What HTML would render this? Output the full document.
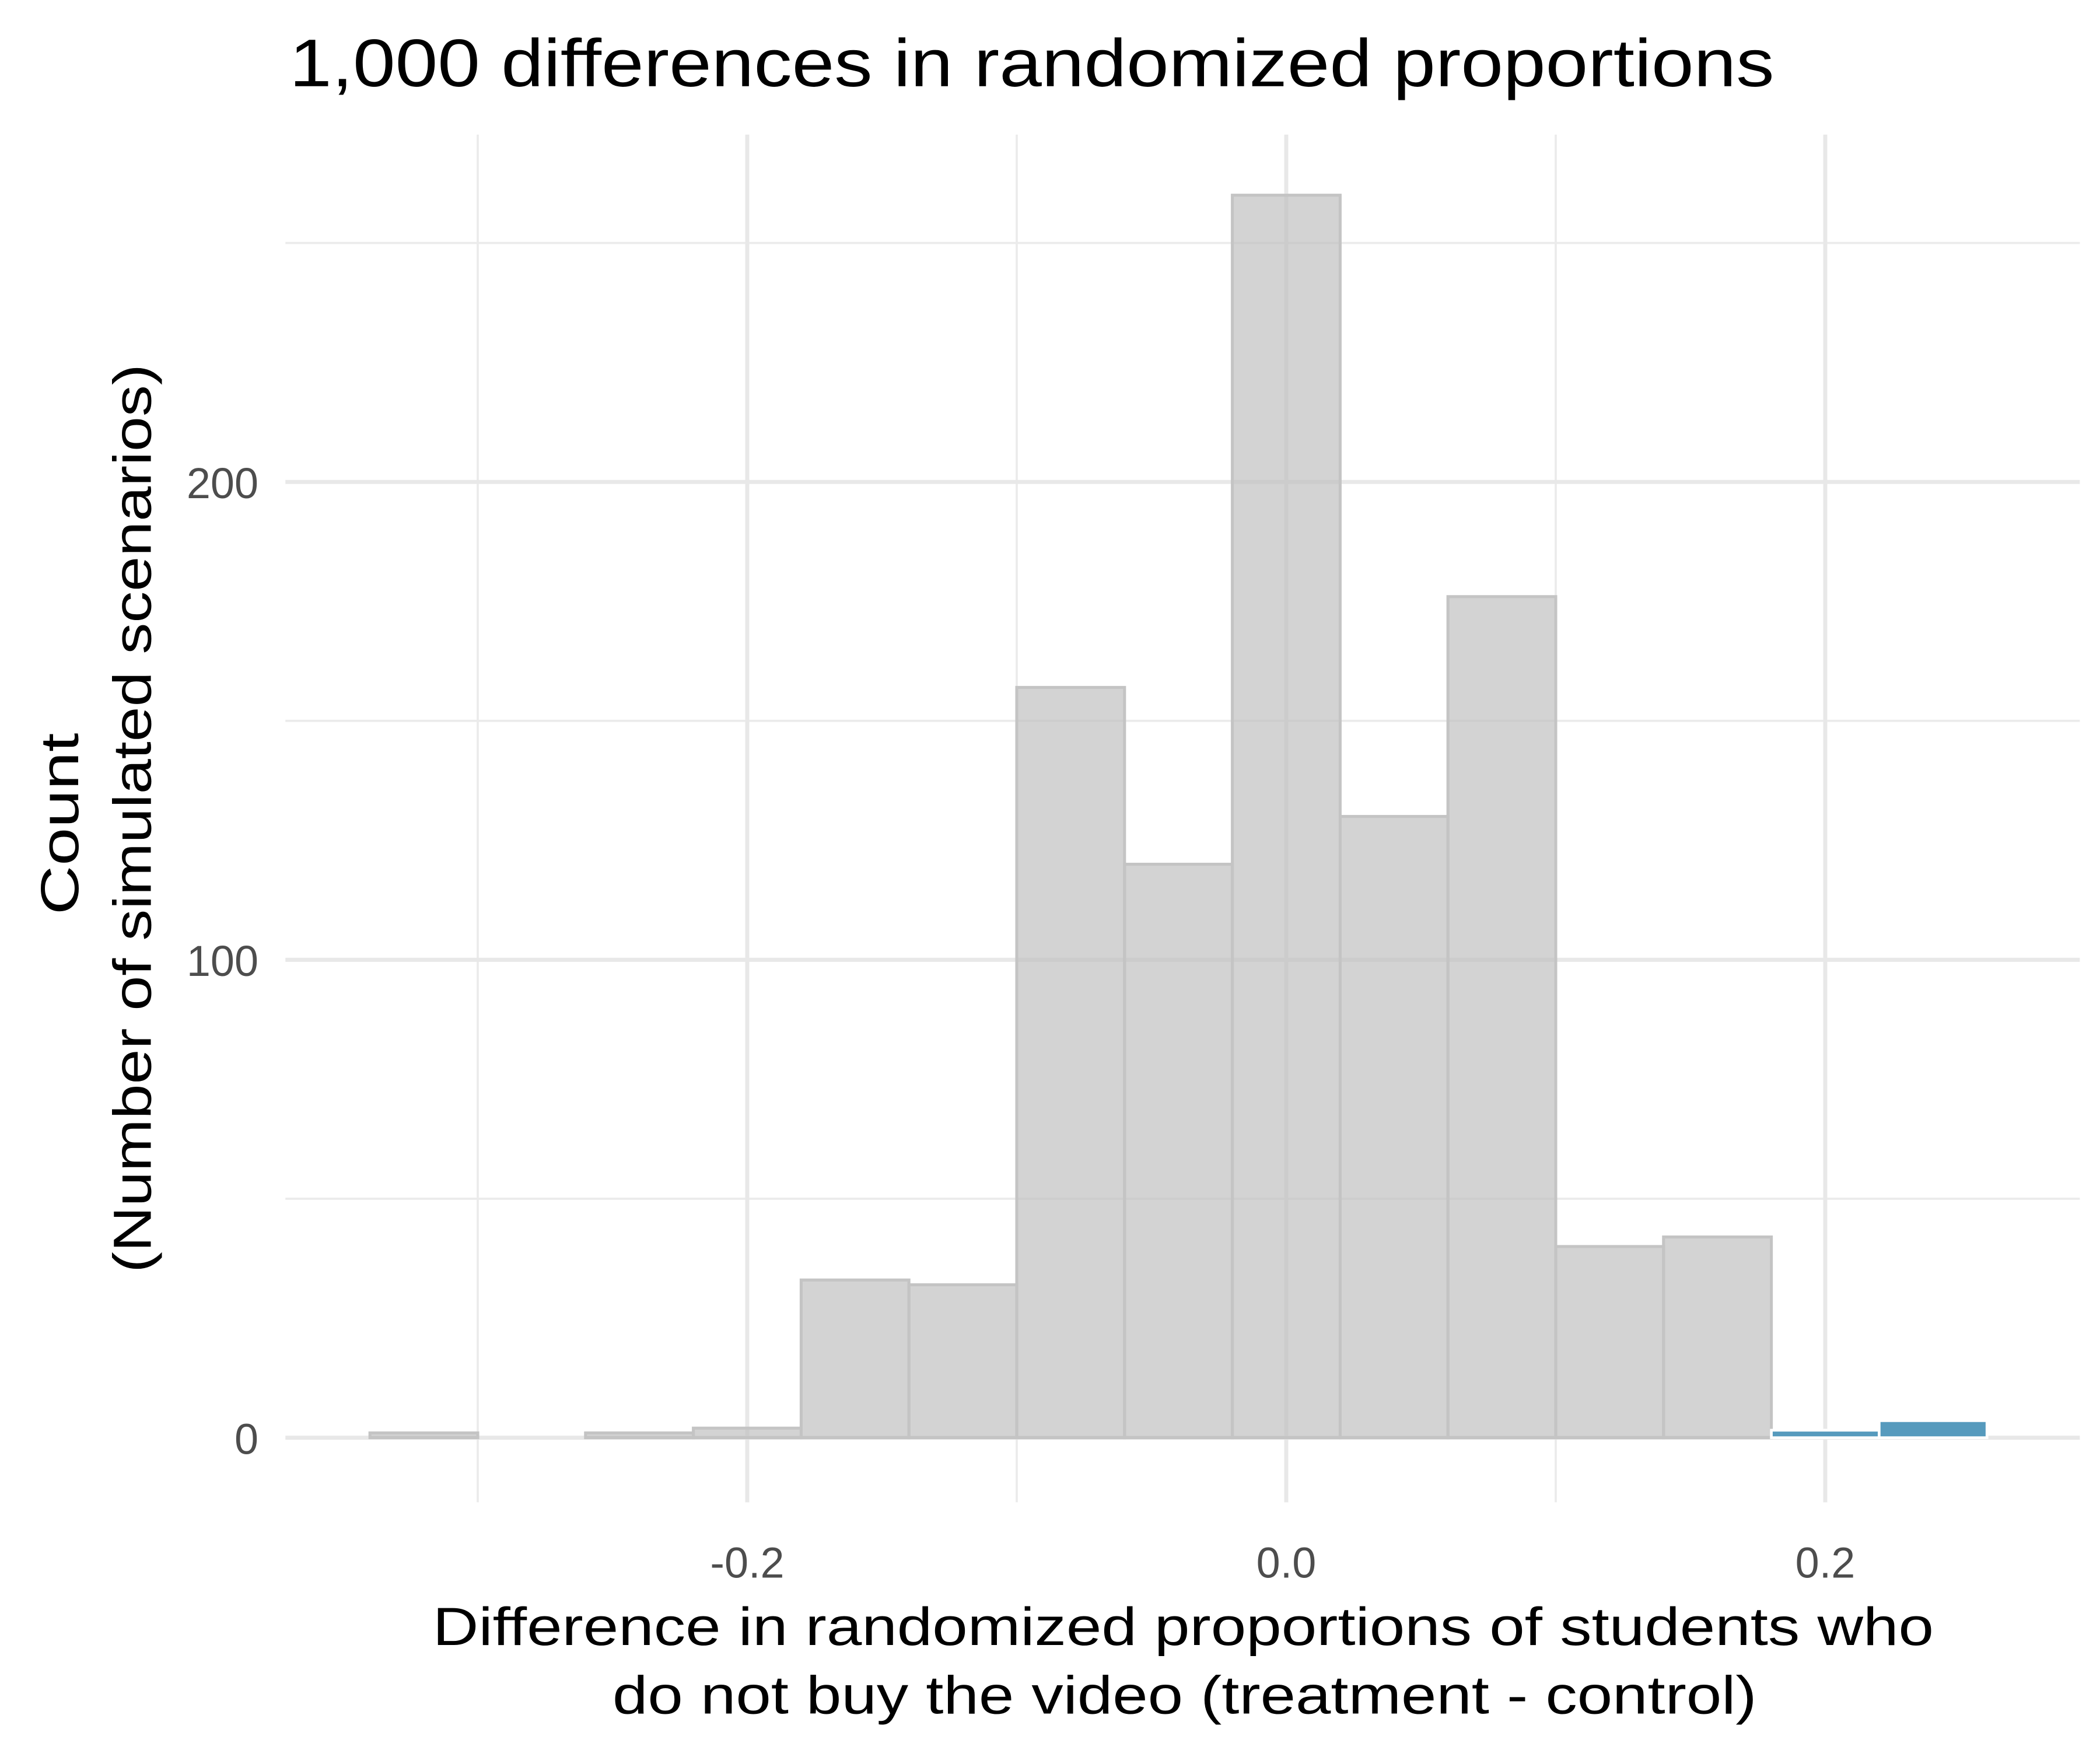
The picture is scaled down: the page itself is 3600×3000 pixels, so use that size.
<!DOCTYPE html>
<html><head><meta charset="utf-8"><style>html,body{margin:0;padding:0;background:#fff}svg{display:block}</style></head>
<body>
<svg width="3600" height="3000" viewBox="0 0 1560 1300" xmlns="http://www.w3.org/2000/svg" font-family="'Liberation Sans', Arial, sans-serif">
<rect width="1560" height="1300" fill="#fff"/>
<g id="grid"></g>
<g id="bars"></g>
<g id="ticks"></g>
<text x="215" y="64" font-size="50" textLength="1103" lengthAdjust="spacingAndGlyphs" fill="#000">1,000 differences in randomized proportions</text>
<text x="879" y="1222" font-size="40" text-anchor="middle" textLength="1115" lengthAdjust="spacingAndGlyphs">Difference in randomized proportions of students who</text>
<text x="880" y="1273" font-size="40" text-anchor="middle" textLength="850" lengthAdjust="spacingAndGlyphs">do not buy the video (treatment - control)</text>
<text transform="translate(58,612) rotate(-90)" font-size="40" text-anchor="middle" textLength="135" lengthAdjust="spacingAndGlyphs">Count</text>
<text transform="translate(112,608) rotate(-90)" font-size="40" text-anchor="middle" textLength="675" lengthAdjust="spacingAndGlyphs">(Number of simulated scenarios)</text>
<script>
const binStarts=[-0.34,-0.30,-0.26,-0.22,-0.18,-0.14,-0.10,-0.06,-0.02,0.02,0.06,0.10,0.14,0.18,0.22];
const counts=[1,0,1,2,33,32,157,120,260,130,176,40,42,1,3];
const extreme=[false,false,false,false,false,false,false,false,false,false,false,false,false,true,true];
const binWidth=0.04;
const xMajor=[-0.2,0.0,0.2];
const xMajorLabels=["-0.2","0.0","0.2"];
const xMinor=[-0.3,-0.1,0.1];
const yMajor=[0,100,200];
const yMinor=[50,150,250];
const NS="http://www.w3.org/2000/svg";
const X=v=>955.5+v*2002;
const Y=v=>1068-v*3.55;
const L=212,R=1545,T=100,B=1116;
function mk(tag,attrs,parent){const e=document.createElementNS(NS,tag);for(const k in attrs)e.setAttribute(k,attrs[k]);parent.appendChild(e);return e;}
const grid=document.getElementById('grid'),bars=document.getElementById('bars'),ticks=document.getElementById('ticks');
xMinor.forEach(v=>{const e=mk('line',{x1:X(v),x2:X(v),y1:T,y2:B,stroke:'#ebebeb','stroke-width':1.6},grid);

});
yMinor.forEach(v=>{const e=mk('line',{x1:L,x2:R,y1:Y(v),y2:Y(v),stroke:'#ebebeb','stroke-width':1.6},grid);

});
xMajor.forEach((v,i)=>{const e=mk('line',{x1:X(v),x2:X(v),y1:T,y2:B,stroke:'#e8e8e8','stroke-width':3},grid);


const t=mk('text',{x:X(v),y:1172,'font-size':32,'text-anchor':'middle',fill:'#4d4d4d'},ticks);t.textContent=xMajorLabels[i];

});
yMajor.forEach(v=>{const e=mk('line',{x1:L,x2:R,y1:Y(v),y2:Y(v),stroke:'#e8e8e8','stroke-width':3},grid);


const t=mk('text',{x:192,y:Y(v)+12,'font-size':32,'text-anchor':'end',fill:'#4d4d4d'},ticks);t.textContent=String(v);

});
binStarts.forEach((s,i)=>{const x0=X(s),x1=X(s+binWidth),y=Y(counts[i]);
const blue=extreme[i];
const r=mk('rect',{x:x0,y:y-(blue?2:0),width:x1-x0,height:Y(0)-y+(blue?2:0),fill:blue?'#569abd':'rgba(190,190,190,0.68)',stroke:blue?'#fff':'#c4c4c4','stroke-width':blue?2:2.2},bars);

});
</script>
</svg>
</body></html>
